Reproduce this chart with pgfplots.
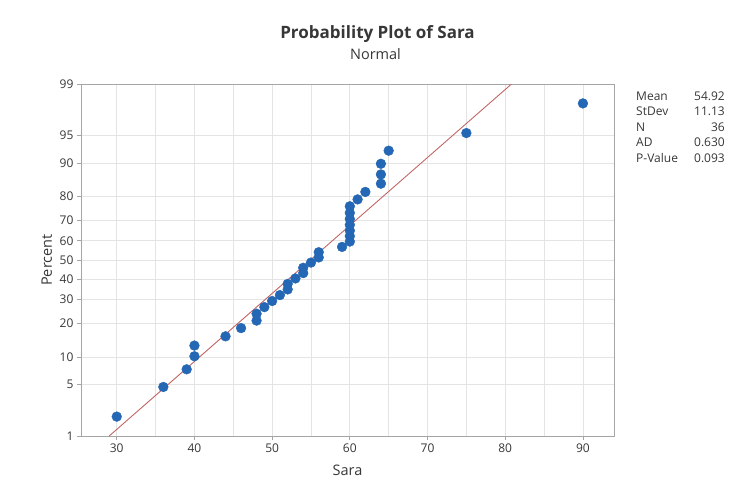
\documentclass[border=0pt]{standalone}
\usepackage{fontspec}
\setmainfont{Open Sans}
\usepackage{pgfplots}
\usepackage{pgfplotstable}
\pgfplotsset{compat=1.18}
\definecolor{dotblue}{RGB}{36,103,180}
\definecolor{fitred}{RGB}{196,100,100}
\definecolor{gridgray}{RGB}{228,228,228}
\definecolor{axgray}{RGB}{165,165,165}
\definecolor{txt}{RGB}{55,55,55}
% Sara values (sorted) and normal quantiles of median ranks (i-0.3)/(n+0.4)
\pgfplotstableread{
x z
30 -2.070
36 -1.678
39 -1.445
40 -1.272
40 -1.131
44 -1.009
46 -0.900
48 -0.801
48 -0.710
49 -0.623
50 -0.542
51 -0.464
52 -0.389
52 -0.316
53 -0.244
54 -0.173
54 -0.103
55 -0.034
56 0.034
56 0.103
59 0.173
60 0.244
60 0.316
60 0.389
60 0.464
60 0.542
60 0.623
60 0.710
61 0.801
62 0.900
64 1.009
64 1.131
64 1.272
65 1.445
75 1.678
90 2.070
}\saradata
\begin{document}
\begin{tikzpicture}[x=1pt,y=1pt]
\path[use as bounding box] (-81,-57) rectangle (652,436);
\begin{axis}[at={(0,0)}, anchor=south west, scale only axis,
  width=533pt, height=352pt,
  xmin=25.4, xmax=94, ymin=-2.3263, ymax=2.3263,
  xtick={30,40,...,90}, minor xtick={35,45,...,85},
  ytick={-2.3263,-1.6449,-1.2816,-0.8416,-0.5244,-0.2533,0,0.2533,0.5244,0.8416,1.2816,1.6449,2.3263},
  yticklabels={1,5,10,20,30,40,50,60,70,80,90,95,99},
  grid=both,
  major grid style={gridgray, line width=0.8pt},
  minor grid style={gridgray, line width=0.8pt},
  axis line style={axgray, line width=0.8pt},
  tick style={axgray, line width=0.8pt},
  major tick length=4pt, minor tick length=0pt,
  tick align=outside, xtick pos=bottom, ytick pos=left,
  tick label style={font=\fontsize{12}{14}\selectfont, text=txt},
  /pgf/number format/assume math mode=true,
  xlabel={Sara}, ylabel={Percent},
  label style={font=\fontsize{14.5}{16}\selectfont, text=txt},
  xlabel style={at={(axis description cs:0.5,0)}, anchor=center, yshift=-34pt},
  ylabel style={at={(axis description cs:-0.064,0.5)}, anchor=center},
  clip=true]
\addplot[fitred, line width=0.9pt] coordinates {(29.03,-2.3263) (80.81,2.3263)};
\addplot[only marks, mark=*, mark size=4.9pt, color=dotblue,
  mark options={draw=none, fill=dotblue}] table[x=x,y=z] {\saradata};
\end{axis}
\node[font=\bfseries\fontsize{17}{20}\selectfont, text=txt] at (296.5,402) {Probability Plot of Sara};
\node[font=\fontsize{14.5}{16}\selectfont, text=txt] at (294.5,382) {Normal};
\begin{scope}[every node/.style={font=\fontsize{12}{14}\selectfont, text=txt, inner sep=0pt}]
\node[anchor=west] at (555,340) {Mean};
\node[anchor=west] at (555,324.5) {StDev};
\node[anchor=west] at (555,309) {N};
\node[anchor=west] at (555,293.5) {AD};
\node[anchor=west] at (555,278) {P-Value};
\node[anchor=east] at (644,340) {54.92};
\node[anchor=east] at (644,324.5) {11.13};
\node[anchor=east] at (644,309) {36};
\node[anchor=east] at (644,293.5) {0.630};
\node[anchor=east] at (644,278) {0.093};
\end{scope}
\end{tikzpicture}
\end{document}
